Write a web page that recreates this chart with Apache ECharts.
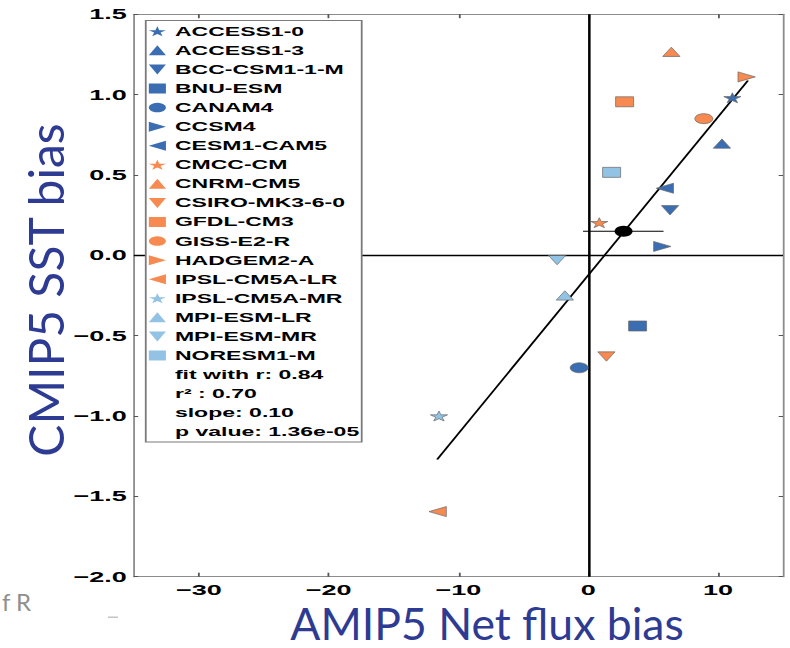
<!DOCTYPE html>
<html><head><meta charset="utf-8">
<script src="https://cdn.jsdelivr.net/npm/echarts@6/dist/echarts.min.js"></script>
<style>
html,body{margin:0;padding:0;background:#fff;overflow:hidden;width:790px;height:648px}
#chart{width:439px;height:648px;transform:scaleX(1.79954);transform-origin:0 0;}
</style></head><body><div id="chart"></div>
<script>
// ---- data ----
const models = ['ACCESS1-0','ACCESS1-3','BCC-CSM1-1-M','BNU-ESM','CANAM4','CCSM4','CESM1-CAM5','CMCC-CM','CNRM-CM5','CSIRO-MK3-6-0','GFDL-CM3','GISS-E2-R','HADGEM2-A','IPSL-CM5A-LR','IPSL-CM5A-MR','MPI-ESM-LR','MPI-ESM-MR','NORESM1-M'];
const netFluxBias = [11.1, 10.3, 6.3, 3.8, -0.7, 5.7, 5.9, 0.85, 6.4, 1.4, 2.8, 8.9, 12.2, -11.6, -11.5, -1.8, -2.4, 1.8];
const sstBias = [0.98, 0.695, 0.28, -0.44, -0.70, 0.055, 0.417, 0.203, 1.266, -0.63, 0.955, 0.85, 1.11, -1.595, -1.00, -0.25, -0.03, 0.516];
const colorGroup = ['dark','dark','dark','dark','dark','dark','dark','orange','orange','orange','orange','orange','orange','orange','light','light','light','light'];
const markerShape = ['star','up','down','square','circle','right','left','star','up','down','square','circle','right','left','star','up','down','square'];
const fitLine = [[-11.64, -1.27], [12.3, 1.087]];
const meanPoint = [2.72, 0.15];
const meanErrX = [-0.4, 5.8];
const statsText = ['fit with r: 0.84', 'r\u00b2 : 0.70', 'slope: 0.10', 'p value: 1.36e-05'];
const xTickValues = [-30, -20, -10, 0, 10];
const xTitle = 'AMIP5 Net flux bias';
const yTitle = 'CMIP5 SST bias';

// ---- styling ----
const S = 790 / 439; // horizontal stretch of the original figure
const colors = {dark: '#3b6db3', orange: '#f78a50', light: '#92c3e4'};
const shapeDefs = {
  star:   {symbol: 'path://M50,0 L61,35 L98,35 L68,57 L79,91 L50,70 L21,91 L32,57 L2,35 L39,35 Z', size: [9.5, 10]},
  up:     {symbol: 'triangle', size: [9.6, 9.3]},
  down:   {symbol: 'path://M0,0 L100,0 L50,100 Z', size: [9.6, 9.3]},
  square: {symbol: 'rect', size: [10, 10]},
  circle: {symbol: 'circle', size: [10, 10]},
  right:  {symbol: 'path://M0,0 L100,50 L0,100 Z', size: [9.6, 10]},
  left:   {symbol: 'path://M100,0 L0,50 L100,100 Z', size: [9.6, 10]}
};
const labelFont = {fontFamily: 'Liberation Sans', fontWeight: 'bold', fontSize: 15, color: '#000'};
const minus = v => (v < 0 ? '\u2212' : '') + Math.abs(v);

const legendLeft = 82.7, legendTop = 24.3, rowH = 14, rowGap = 5.07, legendFont = 12.8;

const modelSeries = models.map((m, i) => {
  const sd = shapeDefs[markerShape[i]];
  return {
    name: m, type: 'scatter', z: 5,
    symbol: sd.symbol, symbolSize: sd.size, symbolKeepAspect: false,
    itemStyle: {color: colors[colorGroup[i]], borderColor: '#666', borderWidth: 0.5, opacity: 1},
    data: [[netFluxBias[i], sstBias[i]]]
  };
});

const chart = echarts.init(document.getElementById('chart'), null, {renderer: 'svg'});
const graphics = [
  {type: 'rect', z: 9, shape: {x: 81, y: 20.5, width: 120, height: 421.5},
   style: {fill: '#fff', stroke: '#7a7a7a', lineWidth: 1}},
  {type: 'text', z: 20, x: 45 / S, y: 290, rotation: Math.PI / 2, scaleX: 1, scaleY: 1 / S,
   style: {text: yTitle, font: '48px Lato', fill: '#2e3b93', textAlign: 'center', textVerticalAlign: 'middle'}},
  {type: 'text', z: 20, x: 487 / S, y: 645, scaleX: 1 / S,
   style: {text: xTitle, font: '44.5px Lato', fill: '#2e3b93', textAlign: 'center', textVerticalAlign: 'bottom'}},
  {type: 'text', z: 20, x: 2 / S, y: 602, scaleX: 1 / S,
   style: {text: 'f R', font: '24px Lato', fill: '#8f8f8f', textAlign: 'left', textVerticalAlign: 'middle'}},
  {type: 'rect', z: 20, shape: {x: 108 / S, y: 616.5, width: 10 / S, height: 1.5}, style: {fill: '#c4c4c4'}}
];
statsText.forEach((t, k) => {
  graphics.push({type: 'text', z: 20, x: legendLeft + 9.5 + 5, y: legendTop + rowH / 2 + (rowH + rowGap) * (models.length + k),
    style: {text: t, font: 'bold ' + legendFont + 'px "Liberation Sans"', fill: '#000', textAlign: 'left', textVerticalAlign: 'middle'}});
});

const axisLineStyle = {lineStyle: {color: '#8c8c8c', width: 1}};
chart.setOption({
  animation: false,
  backgroundColor: '#fff',
  grid: {left: 74.4, right: 3.9, top: 14.2, bottom: 71.3},
  xAxis: [
    {type: 'value', position: 'bottom', min: -35, max: 15,
     axisLine: {show: true, onZero: false, ...axisLineStyle},
     axisTick: {show: true, inside: true, length: 4, customValues: xTickValues, lineStyle: {color: '#555'}},
     axisLabel: {customValues: xTickValues, margin: 6, formatter: minus, ...labelFont},
     splitLine: {show: false}},
    {type: 'value', position: 'top', min: -35, max: 15,
     axisLine: {show: true, onZero: false, ...axisLineStyle},
     axisTick: {show: true, inside: true, length: 4, customValues: xTickValues, lineStyle: {color: '#555'}},
     axisLabel: {show: false}, splitLine: {show: false}}
  ],
  yAxis: [
    {type: 'value', position: 'left', min: -2, max: 1.5, interval: 0.5,
     axisLine: {show: true, onZero: false, ...axisLineStyle},
     axisTick: {show: true, inside: true, length: 2.4, lineStyle: {color: '#555'}},
     axisLabel: {margin: 4, formatter: v => (v < 0 ? '\u2212' : '') + Math.abs(v).toFixed(1), ...labelFont},
     splitLine: {show: false}},
    {type: 'value', position: 'right', min: -2, max: 1.5, interval: 0.5,
     axisLine: {show: true, onZero: false, ...axisLineStyle},
     axisTick: {show: true, inside: true, length: 2.4, lineStyle: {color: '#555'}},
     axisLabel: {show: false}, splitLine: {show: false}}
  ],
  legend: {
    orient: 'vertical', left: legendLeft, top: legendTop, padding: 0, z: 10,
    itemWidth: 9.5, itemHeight: 10, itemGap: rowGap, selectedMode: false,
    symbolKeepAspect: false,
    itemStyle: {borderWidth: 0},
    textStyle: {fontFamily: 'Liberation Sans', fontWeight: 'bold', fontSize: legendFont, color: '#000', lineHeight: rowH},
    data: models
  },
  graphic: graphics,
  series: [
    {name: 'fit', type: 'line', z: 3, data: fitLine, symbol: 'none', silent: true,
     lineStyle: {color: '#000', width: 1.2},
     markLine: {silent: true, symbol: 'none', label: {show: false},
       lineStyle: {color: '#000', width: 1.4, type: 'solid'},
       data: [{xAxis: 0}, {yAxis: 0}]}},
    {name: 'spread', type: 'line', z: 3, data: meanErrX.map(x => [x, meanPoint[1]]), symbol: 'none', silent: true,
     lineStyle: {color: '#000', width: 1}},
    {name: 'mean', type: 'scatter', z: 4, data: [meanPoint], symbol: 'circle', symbolSize: [10, 11],
     itemStyle: {color: '#000', opacity: 1}},
    ...modelSeries
  ]
});
</script></body></html>
